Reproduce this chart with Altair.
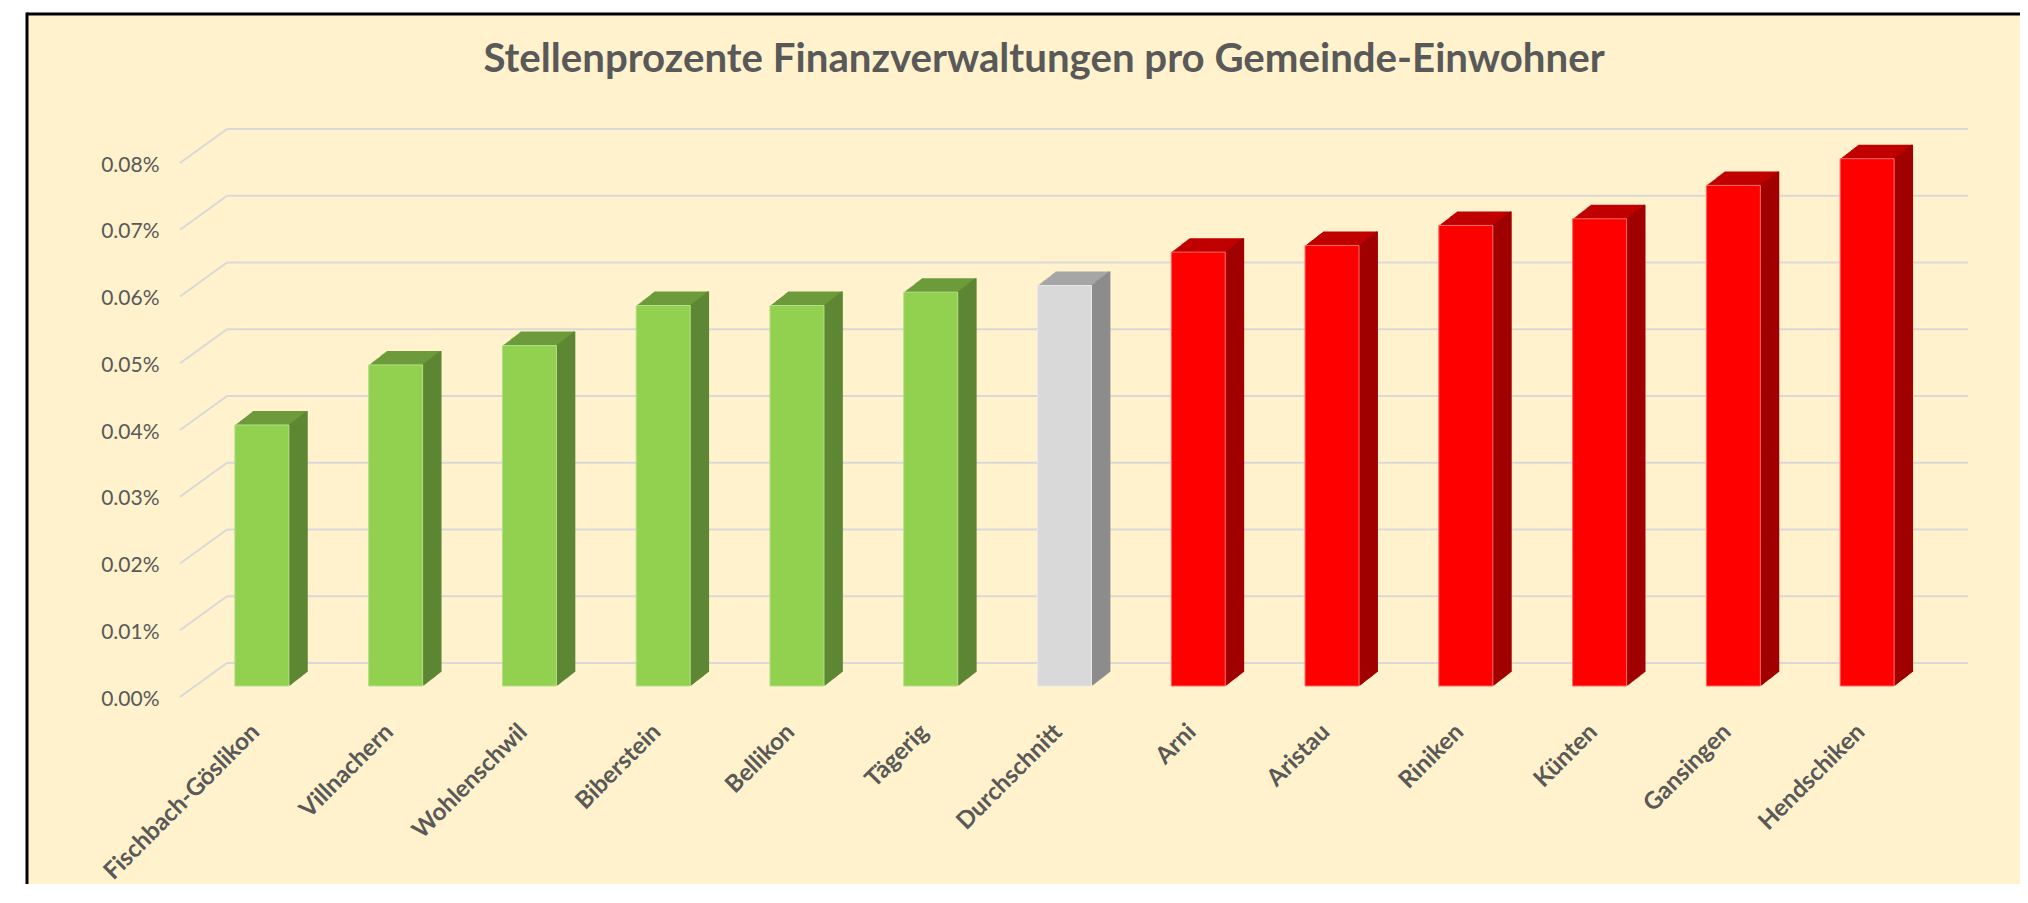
import altair as alt
import pandas as pd

# ---------------- data ----------------
gemeinden = ["Fischbach-Göslikon", "Villnachern", "Wohlenschwil", "Biberstein",
             "Bellikon", "Tägerig", "Durchschnitt", "Arni", "Aristau", "Riniken",
             "Künten", "Gansingen", "Hendschiken"]
anteil = [0.000391, 0.000481, 0.000510, 0.000570, 0.000570, 0.000590, 0.000600,
          0.000650, 0.000660, 0.000690, 0.000700, 0.000750, 0.000790]
gruppe = ["unter", "unter", "unter", "unter", "unter", "unter", "mittel",
          "ueber", "ueber", "ueber", "ueber", "ueber", "ueber"]
y_ticks = [0.0, 0.0001, 0.0002, 0.0003, 0.0004, 0.0005, 0.0006, 0.0007, 0.0008]
titel = "Stellenprozente Finanzverwaltungen pro Gemeinde-Einwohner"

df = pd.DataFrame({"gemeinde": gemeinden, "anteil": anteil, "gruppe": gruppe})
grid_df = pd.DataFrame({"anteil": y_ticks})

# ---------------- styles ----------------
GRP = ["unter", "mittel", "ueber"]
FRONT = ["#92D050", "#D9D9D9", "#FF0000"]
SIDE = ["#5E8733", "#8C8C8C", "#A00000"]
TOP = ["#6D9B3B", "#A6A6A6", "#C00000"]
EDGE = ["#B4E08A", "#E8E8E8", "#FF6A6A"]
TEXT = "#595959"
GRID = "#D9D9D9"
BG = "#FFF2CC"

W, H = 1739, 534
DEPTH_X, DEPTH_Y, STEPS = 18, 14, 18

x_axis = alt.Axis(title=None, labelAngle=-45, labelAlign="right", labelBaseline="middle",
                  labelPadding=42, labelOffset=-6, domain=False, ticks=False,
                  labelFont="Lato", labelFontWeight="bold", labelFontSize=24,
                  labelColor=TEXT, labelOverlap=False, labelLimit=500, zindex=1)
y_axis = alt.Axis(title=None, values=y_ticks, format=".2%", grid=False, domain=False,
                  ticks=False, labelPadding=36, labelOffset=13, labelFont="Lato",
                  labelFontSize=21, labelColor=TEXT, zindex=1)
x_scale = alt.Scale(paddingInner=0.5963, paddingOuter=0.298)
y_scale = alt.Scale(domain=[0, 0.0008], nice=False, zero=True)


def X(**kw):
    return alt.X("gemeinde:N", sort=gemeinden, scale=x_scale, axis=x_axis, **kw)


def Y():
    return alt.Y("anteil:Q", scale=y_scale, axis=y_axis)


def C(rng):
    return alt.Color("gruppe:N", scale=alt.Scale(domain=GRP, range=rng), legend=None)


base0 = alt.Chart(grid_df).transform_filter("datum.anteil == 0")
layers = []

# chart box (fill + left/top border)
layers.append(
    base0.mark_rect(fill=BG, strokeWidth=0).encode(
        x=alt.value(-168), x2=alt.value(1860), y=alt.value(-138), y2=alt.value(780)
    )
)
layers.append(
    base0.mark_rule(color="#000000", strokeWidth=3).encode(
        x=alt.value(-168), x2=alt.value(1860), y=alt.value(-138)
    )
)
layers.append(
    base0.mark_rule(color="#000000", strokeWidth=3).encode(
        x=alt.value(-168), y=alt.value(-139.5), y2=alt.value(780)
    )
)

# back wall gridlines
layers.append(
    alt.Chart(grid_df).mark_rule(color=GRID, strokeWidth=2, yOffset=-23).encode(
        y=Y(), x=alt.value(32), x2=alt.value(1773)
    )
)
# side wall diagonals
layers.append(
    alt.Chart(grid_df).mark_rule(color=GRID, strokeWidth=2, yOffset=11, y2Offset=-23).encode(
        y=Y(), y2=alt.Y2("anteil"), x=alt.value(-15), x2=alt.value(32)
    )
)

# top faces (extruded)
for i in range(1, STEPS + 1):
    dx = DEPTH_X * i / STEPS
    dy = -DEPTH_Y * i / STEPS
    layers.append(
        alt.Chart(df).mark_bar(xOffset=dx, x2Offset=dx, yOffset=dy, y2Offset=dy).encode(
            x=X(), y=Y(), color=C(TOP)
        )
    )
# side faces
for i in range(1, STEPS + 1):
    dx = DEPTH_X * i / STEPS
    dy = -DEPTH_Y * i / STEPS
    layers.append(
        alt.Chart(df).mark_rule(xOffset=dx, yOffset=dy, y2Offset=dy, strokeWidth=1.8).encode(
            x=X(bandPosition=1), y=Y(), y2=alt.datum(0), color=C(SIDE)
        )
    )
# front faces
layers.append(
    alt.Chart(df).mark_bar(strokeWidth=1).encode(
        x=X(), y=Y(), color=C(FRONT),
        stroke=alt.Stroke("gruppe:N", scale=alt.Scale(domain=GRP, range=EDGE), legend=None)
    )
)

# title
layers.append(
    base0.mark_text(text=titel, font="Lato", fontWeight="bold", fontSize=40.2,
                    color=TEXT, align="center", baseline="alphabetic").encode(
        x=alt.value(849), y=alt.value(-80)
    )
)

chart = alt.layer(*layers).resolve_scale(color="independent", stroke="independent").properties(
    width=W, height=H,
    autosize=alt.AutoSizeParams(type="none"),
    padding={"left": 187, "top": 144, "right": 86, "bottom": 198},
    background="#FFFFFF",
).configure_view(stroke=None)

chart.save("out.html", embed_options={"renderer": "svg", "actions": False})
